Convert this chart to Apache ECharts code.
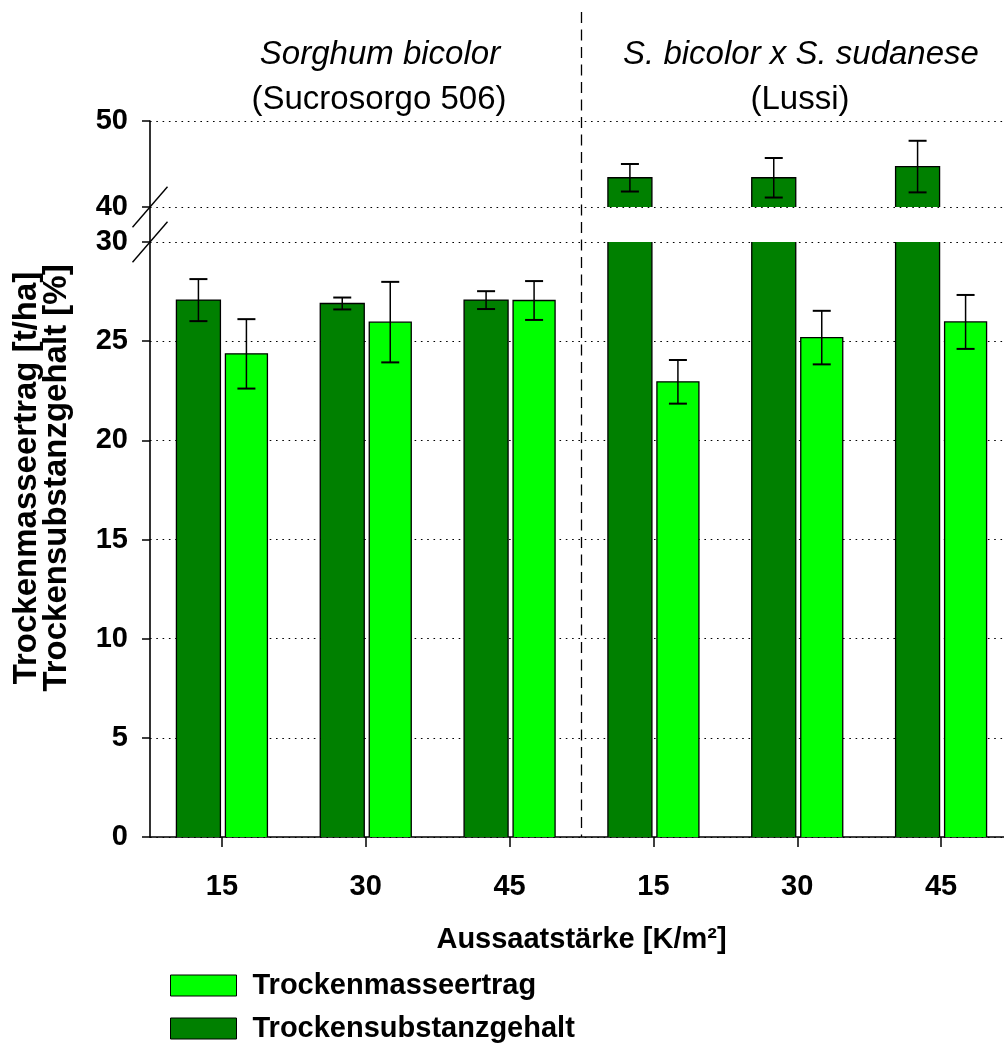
<!DOCTYPE html>
<html>
<head>
<meta charset="utf-8">
<script src="https://cdn.jsdelivr.net/npm/echarts@6/dist/echarts.min.js"></script>
<style>
  html, body { margin: 0; padding: 0; background: #fff; }
  #chart { width: 1004px; height: 1050px; }
</style>
</head>
<body>
<div id="chart"></div>
<script>
// Sowing density categories (plants per m²), two cultivars with three densities each
const categories = ['15', '30', '45', '15', '30', '45'];

// Trockenmasseertrag [t/ha] – mean and standard deviation
const yieldMean = [24.36, 25.96, 27.05, 22.95, 25.18, 25.97];
const yieldErr  = [1.75, 2.03, 0.98, 1.10, 1.35, 1.36];

// Trockensubstanzgehalt [%] – mean and standard deviation
const dmMean = [27.07, 26.90, 27.07, 43.40, 43.40, 44.70];
const dmErr  = [1.06, 0.30, 0.45, 1.60, 2.30, 3.00];

// Broken value axis: lower segment and upper segment tick values
const lowerTicks = [0, 5, 10, 15, 20, 25, 30];
const upperTicks = [40, 50];

const groupTitles    = ['Sorghum bicolor', 'S. bicolor x S. sudanese'];
const groupCultivars = ['(Sucrosorgo 506)', '(Lussi)'];

const seriesNames = ['Trockenmasseertrag', 'Trockensubstanzgehalt'];
const xAxisTitle = 'Aussaatstärke [K/m²]';
const yAxisTitle = ['Trockenmasseertrag [t/ha]', 'Trockensubstanzgehalt [%]'];

// ---- styling ----
const FONT = '"Liberation Sans", Arial, Helvetica, sans-serif';
const LIGHT = '#00ff00';
const DARK = '#008000';
const GRID_LEFT = 150;
const GRID_WIDTH = 863;
const DARK_OFFSET = -45.5, DARK_W = 44;
const LIGHT_OFFSET = 3.5, LIGHT_W = 42;

const lowMin = lowerTicks[0], lowMax = lowerTicks[lowerTicks.length - 1];
const upMin = upperTicks[0], upMax = upperTicks[upperTicks.length - 1];

// Bar drawn between lo and hi of its axis segment; a bar running past hi
// is cut open at the top (no edge), continuing in the segment above.
function barRenderer(color, offset, width, lo, hi) {
  return function (params, api) {
    const idx = api.value(0);
    const v = api.value(1);
    const base = api.coord([idx, lo]);
    const head = api.coord([idx, Math.min(v, hi)]);
    const x = base[0] + offset;
    const yB = base[1], yT = head[1];
    const edge = { stroke: '#000', lineWidth: 1.3, fill: 'none' };
    const children = [{
      type: 'rect',
      shape: { x: x, y: yT, width: width, height: yB - yT },
      style: { fill: color }
    }];
    if (v <= hi) {
      children.push({
        type: 'polyline',
        shape: { points: [[x, yB], [x, yT], [x + width, yT], [x + width, yB]] },
        style: edge
      });
    } else {
      children.push(
        { type: 'line', shape: { x1: x, y1: yB, x2: x, y2: yT }, style: edge },
        { type: 'line', shape: { x1: x + width, y1: yB, x2: x + width, y2: yT }, style: edge }
      );
    }
    return { type: 'group', children: children };
  };
}

function errRenderer(offset) {
  return function (params, api) {
    const idx = api.value(0), m = api.value(1), e = api.value(2);
    const hiP = api.coord([idx, m + e]);
    const loP = api.coord([idx, m - e]);
    const x = hiP[0] + offset;
    const cap = 9;
    return {
      type: 'group',
      children: [
        { type: 'line', shape: { x1: x, y1: hiP[1], x2: x, y2: loP[1] }, style: { stroke: '#000', lineWidth: 1.5 } },
        { type: 'line', shape: { x1: x - cap, y1: hiP[1], x2: x + cap, y2: hiP[1] }, style: { stroke: '#000', lineWidth: 2 } },
        { type: 'line', shape: { x1: x - cap, y1: loP[1], x2: x + cap, y2: loP[1] }, style: { stroke: '#000', lineWidth: 2 } }
      ]
    };
  };
}

const rows = (means, errs, keep) =>
  means.map((m, i) => [i, m, errs[i]]).filter(r => keep(r[1]));

const dotted = { color: '#000', width: 1, type: [1.6, 4.7] };
const labelStyle = { color: '#000', fontFamily: FONT, fontWeight: 'bold', fontSize: 29 };

const chart = echarts.init(document.getElementById('chart'), null, { renderer: 'canvas' });

chart.setOption({
  animation: false,
  backgroundColor: '#fff',
  grid: [
    { left: GRID_LEFT, width: GRID_WIDTH, top: 242, height: 595, outerBoundsMode: 'none', containLabel: false },
    { left: GRID_LEFT, width: GRID_WIDTH, top: 121, height: 86, outerBoundsMode: 'none', containLabel: false }
  ],
  xAxis: [
    {
      type: 'category', gridIndex: 0, data: categories, boundaryGap: true,
      axisLine: { show: true, lineStyle: { color: '#000', width: 1.6 } },
      axisTick: { show: true, inside: false, alignWithLabel: true, length: 10, lineStyle: { color: '#000', width: 1.5 } },
      axisLabel: Object.assign({ margin: 35 }, labelStyle),
      name: xAxisTitle, nameLocation: 'middle', nameGap: 88,
      nameTextStyle: labelStyle
    },
    { type: 'category', gridIndex: 1, data: categories, show: false }
  ],
  yAxis: [
    {
      type: 'value', gridIndex: 0, min: lowMin, max: lowMax, interval: lowerTicks[1] - lowerTicks[0],
      axisLine: { show: true, lineStyle: { color: '#000', width: 1.6 } },
      axisTick: { show: true, length: 8, lineStyle: { color: '#000', width: 1.5 } },
      axisLabel: Object.assign({ margin: 22 }, labelStyle),
      splitLine: { show: true, lineStyle: dotted }
    },
    {
      type: 'value', gridIndex: 1, min: upMin, max: upMax, interval: upperTicks[1] - upperTicks[0],
      axisLine: { show: true, lineStyle: { color: '#000', width: 1.6 } },
      axisTick: { show: true, length: 8, lineStyle: { color: '#000', width: 1.5 } },
      axisLabel: Object.assign({ margin: 22 }, labelStyle),
      splitLine: { show: true, lineStyle: dotted }
    }
  ],
  legend: {
    orient: 'vertical', left: 170, top: 971, padding: 0,
    itemWidth: 66, itemHeight: 21, itemGap: 14, icon: 'rect',
    textStyle: Object.assign({ padding: [0, 0, 0, 11], lineHeight: 29 }, labelStyle),
    data: [
      { name: seriesNames[0], itemStyle: { color: LIGHT, borderColor: '#000', borderWidth: 1 } },
      { name: seriesNames[1], itemStyle: { color: DARK, borderColor: '#000', borderWidth: 1 } }
    ]
  },
  series: [
    {
      name: seriesNames[1], type: 'custom', xAxisIndex: 0, yAxisIndex: 0,
      itemStyle: { color: DARK },
      renderItem: barRenderer(DARK, DARK_OFFSET, DARK_W, lowMin, lowMax),
      encode: { x: 0, y: 1 },
      data: rows(dmMean, dmErr, () => true)
    },
    {
      name: seriesNames[0], type: 'custom', xAxisIndex: 0, yAxisIndex: 0,
      itemStyle: { color: LIGHT },
      renderItem: barRenderer(LIGHT, LIGHT_OFFSET, LIGHT_W, lowMin, lowMax),
      encode: { x: 0, y: 1 },
      data: rows(yieldMean, yieldErr, () => true)
    },
    {
      name: seriesNames[1], type: 'custom', xAxisIndex: 1, yAxisIndex: 1,
      itemStyle: { color: DARK },
      renderItem: barRenderer(DARK, DARK_OFFSET, DARK_W, upMin, upMax),
      encode: { x: 0, y: 1 },
      data: rows(dmMean, dmErr, v => v > upMin)
    },
    {
      name: seriesNames[1], type: 'custom', xAxisIndex: 0, yAxisIndex: 0, z: 3,
      itemStyle: { color: DARK },
      renderItem: errRenderer(DARK_OFFSET + DARK_W / 2),
      encode: { x: 0, y: 1 },
      data: rows(dmMean, dmErr, v => v <= lowMax)
    },
    {
      name: seriesNames[1], type: 'custom', xAxisIndex: 1, yAxisIndex: 1, z: 3,
      itemStyle: { color: DARK },
      renderItem: errRenderer(DARK_OFFSET + DARK_W / 2),
      encode: { x: 0, y: 1 },
      data: rows(dmMean, dmErr, v => v > upMin)
    },
    {
      name: seriesNames[0], type: 'custom', xAxisIndex: 0, yAxisIndex: 0, z: 3,
      itemStyle: { color: LIGHT },
      renderItem: errRenderer(LIGHT_OFFSET + LIGHT_W / 2),
      encode: { x: 0, y: 1 },
      data: rows(yieldMean, yieldErr, () => true)
    }
  ]
});

// Decorations placed from the axes: group separator, axis break, titles
const y0 = chart.convertToPixel({ yAxisIndex: 0 }, lowMin);
const yLowTop = chart.convertToPixel({ yAxisIndex: 0 }, lowMax);
const yUpBottom = chart.convertToPixel({ yAxisIndex: 1 }, upMin);
const sepX = (chart.convertToPixel({ xAxisIndex: 0 }, 2) + chart.convertToPixel({ xAxisIndex: 0 }, 3)) / 2;

const breakMark = y => ({
  type: 'line', z: 10,
  shape: { x1: GRID_LEFT - 17.5, y1: y + 20.3, x2: GRID_LEFT + 17.5, y2: y - 20.3 },
  style: { stroke: '#000', lineWidth: 1.4 }
});

const titleText = (text, x, y, italic) => ({
  type: 'text', x: x, y: y, z: 10,
  style: {
    text: text, fill: '#000',
    font: (italic ? 'italic ' : '') + '33px ' + FONT,
    textAlign: 'center', textVerticalAlign: 'middle'
  }
});

chart.setOption({
  graphic: [
    {
      type: 'line', z: 1,
      shape: { x1: sepX, y1: 12, x2: sepX, y2: y0 },
      style: { stroke: '#000', lineWidth: 1.3, lineDash: [11, 6.5] }
    },
    {
      type: 'line', z: 10,
      shape: { x1: GRID_LEFT, y1: yUpBottom, x2: GRID_LEFT, y2: yLowTop },
      style: { stroke: '#000', lineWidth: 1.6 }
    },
    breakMark(yUpBottom),
    breakMark(yLowTop),
    titleText(groupTitles[0], 380, 55, true),
    titleText(groupCultivars[0], 379, 100, false),
    titleText(groupTitles[1], 801, 55, true),
    titleText(groupCultivars[1], 800, 100, false),
    {
      type: 'text', x: 42, y: 478, rotation: Math.PI / 2, z: 10,
      style: {
        text: yAxisTitle.join('\n'), fill: '#000',
        font: 'bold 33px ' + FONT, lineHeight: 30,
        textAlign: 'center', textVerticalAlign: 'middle'
      }
    }
  ]
});
</script>
</body>
</html>
